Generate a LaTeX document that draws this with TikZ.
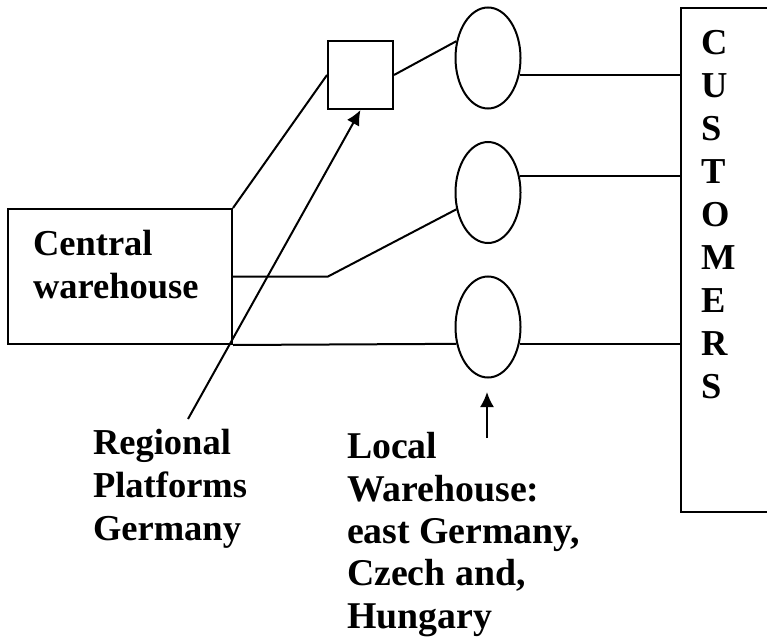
\documentclass[tikz,border=0pt]{standalone}
\usepackage{fontspec}
\setmainfont{Liberation Serif}
\usetikzlibrary{shapes.geometric,arrows.meta}
\begin{document}
\begin{tikzpicture}[x=1pt,y=-1pt,
  line width=2pt,
  box/.style={draw,rectangle,inner sep=0pt},
  site/.style={draw,ellipse,inner sep=0pt,minimum width=65pt,minimum height=101pt},
  label/.style={inner sep=0pt,anchor=base west,align=left,
    font=\bfseries\fontsize{36.5}{42.8}\selectfont},
  pointer/.style={-{Latex[length=15pt,width=14pt]}}]
\clip (0,0) rectangle (767,639);

% central warehouse and regional platform
\node[box,minimum width=224pt,minimum height=135pt] (cw) at (120,276.5) {};
% multi-line labels are placed by the baseline of their last line
\node[label] (cwtext) at (32,298) {Central\\warehouse};
\node[box,minimum width=65pt,minimum height=68pt] (sq) at (360.5,75) {};

% local warehouses
\node[site] (e1) at (488,58) {};
\node[site] (e2) at (488,192.5) {};
\node[site] (e3) at (488,327) {};

% customers column
\node[box,anchor=north west,minimum width=110pt,minimum height=504pt] (cu) at (680,7) {};
\foreach \ch [count=\i from 0] in {C,U,S,T,O,M,E,R,S}
  \node[label] (cu\i) at (700,55+42.9*\i) {\ch};

% flows
\coordinate (bend) at (328,276.5);
\draw (cw.north east) -- (sq.west);
\draw (sq.east) -- (e1.152);
\draw (e1.-28) -- (e1.-28 -| cu.west);
\draw (cw.east) -- (bend) -- (e2.208);
\draw (e2.28) -- (e2.28 -| cu.west);
\draw (cw.south east) -- (e3.208);
\draw (e3.-28) -- (e3.-28 -| cu.west);

% labels with pointers
\node[label] (rp) at (92,540) {Regional\\Platforms\\Germany};
\node[label,font=\bfseries\fontsize{37.8}{42.3}\selectfont] (lw) at (346,628)
  {Local\\Warehouse:\\east Germany,\\Czech and,\\Hungary};
\coordinate (rptail) at (188,419);
\coordinate (lwtail) at (487,438);
\coordinate (lwtip) at (487,392);
\draw[pointer] (rptail) -- (sq.south);
\draw[pointer] (lwtail) -- (lwtip);
\end{tikzpicture}
\end{document}
